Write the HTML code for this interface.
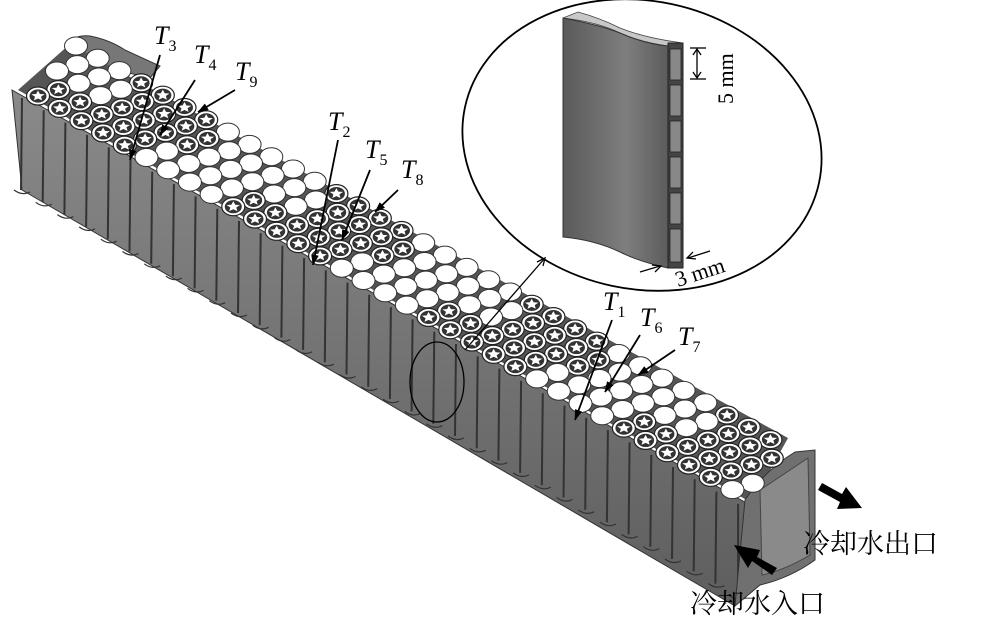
<!DOCTYPE html>
<html><head><meta charset="utf-8"><style>
html,body{margin:0;padding:0;background:#fff;width:1000px;height:643px;overflow:hidden}
svg{display:block}
text{font-family:"Liberation Serif","Noto Serif CJK SC",serif}
</style></head><body>
<svg id="s" width="1000" height="643" viewBox="0 0 1000 643" xmlns="http://www.w3.org/2000/svg">
<defs>
<linearGradient id="wall" x1="0" y1="0" x2="0" y2="1"><stop offset="0" stop-color="#8a8a8a"/><stop offset="1" stop-color="#5e5e5e"/></linearGradient>
<linearGradient id="pc" x1="0" y1="0" x2="1" y2="0"><stop offset="0" stop-color="#5a5a5a"/><stop offset="0.6" stop-color="#7e7e7e"/><stop offset="1" stop-color="#5c5c5c"/></linearGradient>
</defs>
<path d="M68,50 Q70,34 90,36 Q110,40 125,50 L160,66 L150,78 L66,58 Z" fill="#777" stroke="#333" stroke-width="1"/>
<polygon points="18,90 70,44 788,438 752,503" fill="#555"/>
<polygon points="12,90 750,505 735,606 22,190" fill="url(#wall)" stroke="#333" stroke-width="1"/>
<g id="stripes" stroke="#333" stroke-width="2"></g>
<path d="M745,500 Q765,470 795,452 L815,450 L815,560 Q790,578 760,585 L735,606 Z" fill="#707070" stroke="#333"/>
<path d="M760,490 Q790,470 808,458 L810,555 Q785,570 762,575 Z" fill="#8a8a8a" stroke="#444"/>
<g id="cells"></g>
<ellipse cx="642" cy="145" rx="181" ry="144" transform="rotate(12 642 145)" fill="none" stroke="#000" stroke-width="1.8"/>
<path d="M563,18 L578,12 Q600,18 620,28 Q645,38 683,43 L668,46 Q640,42 620,33 Q598,22 563,18 Z" fill="#c8c8c8" stroke="#444" stroke-width="0.8"/>
<path d="M563,18 Q600,25 620,33 Q645,44 668,46 L668,268 Q640,262 620,252 Q595,240 563,237 Z" fill="url(#pc)" stroke="#333"/>
<rect x="668" y="43" width="15" height="225" fill="#444" stroke="#222"/>
<g fill="#888" stroke="#222" stroke-width="0.8">
<rect x="670" y="49" width="11" height="31"/><rect x="670" y="85" width="11" height="31"/><rect x="670" y="121" width="11" height="31"/><rect x="670" y="157" width="11" height="31"/><rect x="670" y="193" width="11" height="31"/><rect x="670" y="229" width="11" height="33"/>
</g>
<g stroke="#000" stroke-width="1.3" fill="none">
<line x1="690" y1="48" x2="706" y2="48"/><line x1="690" y1="79" x2="706" y2="79"/><line x1="697" y1="50" x2="697" y2="77"/>
<path d="M693,55 L697,49 L701,55 M693,72 L697,78 L701,72"/>
<line x1="640" y1="272" x2="660" y2="266"/><path d="M652,265 L661,266 L655,272"/>
<line x1="710" y1="251" x2="688" y2="258"/><path d="M693,252 L687,258 L696,259"/>
<line x1="465" y1="350" x2="545" y2="258"/><path d="M537,262 L545,258 L543,266"/>
</g>
<text x="0" y="0" font-size="22" transform="translate(733,104) rotate(-90)">5 mm</text>
<text x="0" y="0" font-size="22" transform="translate(678,287) rotate(-18)">3 mm</text>
<ellipse cx="437" cy="382" rx="27" ry="40" fill="none" stroke="#000" stroke-width="1.3"/>
<g font-size="26" font-style="italic">
<text x="154" y="44">T<tspan font-size="16" font-style="normal" dy="7">3</tspan></text>
<text x="194" y="63">T<tspan font-size="16" font-style="normal" dy="7">4</tspan></text>
<text x="235" y="80">T<tspan font-size="16" font-style="normal" dy="7">9</tspan></text>
<text x="328" y="130">T<tspan font-size="16" font-style="normal" dy="7">2</tspan></text>
<text x="365" y="158">T<tspan font-size="16" font-style="normal" dy="7">5</tspan></text>
<text x="401" y="178">T<tspan font-size="16" font-style="normal" dy="7">8</tspan></text>
<text x="603" y="310">T<tspan font-size="16" font-style="normal" dy="7">1</tspan></text>
<text x="640" y="326">T<tspan font-size="16" font-style="normal" dy="7">6</tspan></text>
<text x="678" y="345">T<tspan font-size="16" font-style="normal" dy="7">7</tspan></text>
</g>
<g id="arrows" stroke="#000" stroke-width="1.8"></g>
<polygon points="822,483 842,494 846,487 862,508 837,509 840,502 818,490" fill="#000"/>
<polygon points="777,568 757,557 760,550 734,545 748,568 752,561 772,575" fill="#000"/>
<text x="803" y="553" font-size="27" font-family="'Noto Serif CJK SC','Noto Sans CJK SC',serif">冷却水出口</text>
<text x="690" y="613" font-size="27" font-family="'Noto Serif CJK SC','Noto Sans CJK SC',serif">冷却水入口</text>
</svg>
<script>
var NS="http://www.w3.org/2000/svg";
function el(p,n,a){var e=document.createElementNS(NS,n);for(var k in a)e.setAttribute(k,a[k]);p.appendChild(e);return e;}
var st=document.getElementById("stripes");
for(var k=0;k<34;k++){var x=22+k*21.7,y=96+k*12.3;el(st,"line",{x1:x,y1:y+2,x2:x+(k<33?-1:0),y2:y+94});
 el(st,"path",{d:"M"+(x-8)+","+(y+94)+" q8,6 16,2",fill:"none","stroke-width":1.2});}
var cg=document.getElementById("cells");
var P0=[38,96],u=[21.7,12.3],v=[9.5,-12.5];
function star(cx,cy,r){var s="";for(var i=0;i<10;i++){var a=-Math.PI/2+i*Math.PI/5,rr=i%2?r*0.45:r;s+=(i?"L":"M")+(cx+rr*Math.cos(a)).toFixed(1)+","+(cy+rr*0.78*Math.sin(a)).toFixed(1);}return s+"Z";}
for(var j=4;j>=0;j--){for(var i=0;i<33;i++){
 var t=i+(j%2)*0.5;var cx=P0[0]+t*u[0]+j*v[0],cy=P0[1]+t*u[1]+j*v[1];
 var blk=Math.floor((i+ (j<2?0:2))/4.5);var isStar=((blk+(j<2?0:1))%2)==0;
 if(i<2&&j>=3)isStar=false;
 if(isStar){el(cg,"ellipse",{cx:cx,cy:cy,rx:11.5,ry:9,fill:"#fff",stroke:"#222","stroke-width":1.2});
  el(cg,"ellipse",{cx:cx,cy:cy,rx:8.5,ry:6.6,fill:"#333"});
  el(cg,"path",{d:star(cx,cy,7),fill:"#fff"});}
 else el(cg,"ellipse",{cx:cx,cy:cy,rx:11.5,ry:9,fill:"#fff",stroke:"#333","stroke-width":1});
}}
var ar=document.getElementById("arrows");
[[160,55,130,160],[195,80,160,135],[235,90,198,112],[338,140,313,265],[370,170,342,240],[398,190,375,212],[612,320,575,420],[640,335,605,392],[675,350,638,375]].forEach(function(a){
 el(ar,"line",{x1:a[0],y1:a[1],x2:a[2],y2:a[3]});
 var dx=a[2]-a[0],dy=a[3]-a[1],L=Math.hypot(dx,dy);dx/=L;dy/=L;
 var bx=a[2]-dx*10,by=a[3]-dy*10;
 el(ar,"polygon",{points:a[2]+","+a[3]+" "+(bx-dy*3.5)+","+(by+dx*3.5)+" "+(bx+dy*3.5)+","+(by-dx*3.5),fill:"#000","stroke-width":0.5});
});
</script>
</body></html>
